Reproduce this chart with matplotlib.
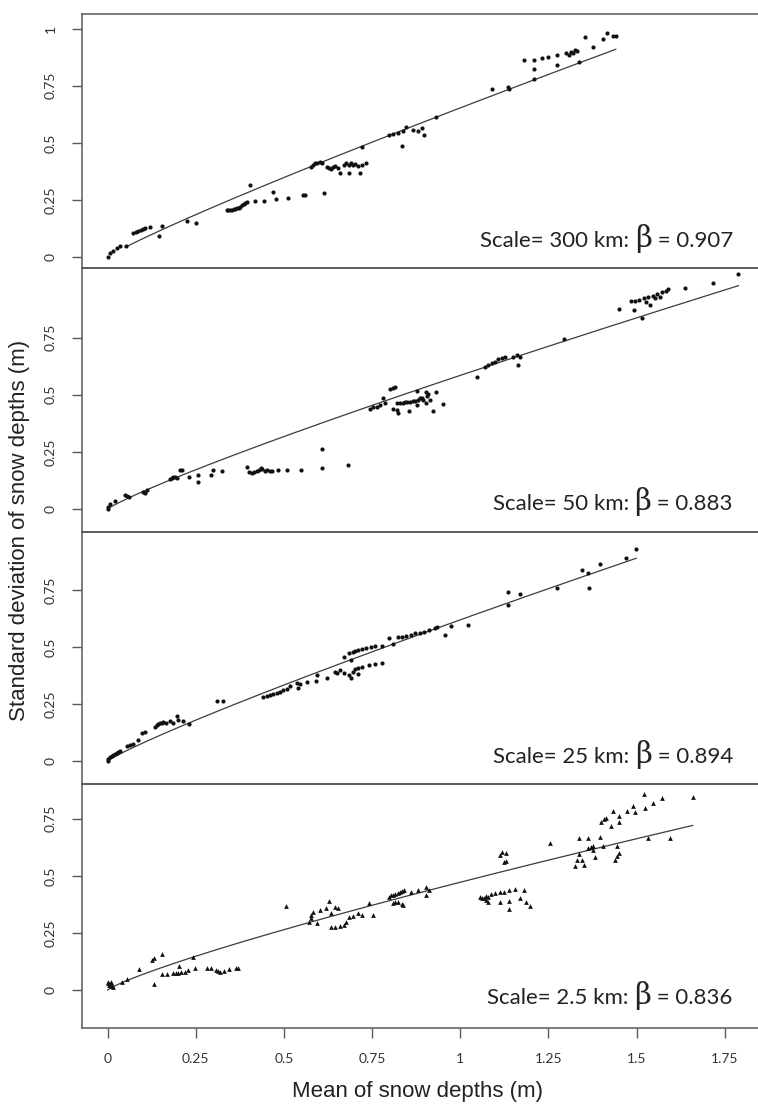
import matplotlib
matplotlib.use("Agg")
import matplotlib.pyplot as plt
import numpy as np
from matplotlib.offsetbox import AnchoredOffsetbox, HPacker, TextArea

# panel 1: 300 km
P1_X = [0.0, 0.0065, 0.016, 0.0255, 0.035, 0.052, 0.073, 0.08, 0.087, 0.094, 0.1, 0.106,
        0.12, 0.153, 0.146, 0.224, 0.25,
        0.337, 0.342, 0.347, 0.352, 0.357, 0.362, 0.366, 0.371, 0.376, 0.381, 0.386, 0.39, 0.394,
        0.404, 0.417, 0.442, 0.47, 0.476, 0.51, 0.56, 0.555, 0.614,
        0.577, 0.583, 0.589, 0.595, 0.602, 0.608, 0.621, 0.627, 0.633, 0.639, 0.646, 0.652, 0.658,
        0.671, 0.677, 0.684, 0.69, 0.696, 0.702, 0.709, 0.721, 0.734, 0.684, 0.715, 0.721,
        0.797, 0.809, 0.822, 0.837, 0.847, 0.866, 0.879, 0.891, 0.898, 0.835, 0.932,
        1.089, 1.134, 1.137,
        1.181, 1.21, 1.231, 1.25, 1.275, 1.21, 1.21, 1.273, 1.3, 1.307, 1.313, 1.319, 1.326,
        1.332, 1.336, 1.353, 1.376, 1.404, 1.416, 1.433, 1.441]
P1_Y = [0.001, 0.016, 0.028, 0.038, 0.048, 0.048, 0.104, 0.108, 0.113, 0.118, 0.122, 0.126,
        0.13, 0.136, 0.092, 0.158, 0.15,
        0.208, 0.205, 0.204, 0.206, 0.21, 0.212, 0.213, 0.216, 0.22, 0.226, 0.232, 0.236, 0.24,
        0.315, 0.247, 0.247, 0.283, 0.255, 0.26, 0.272, 0.272, 0.282,
        0.396, 0.403, 0.41, 0.413, 0.416, 0.41, 0.396, 0.388, 0.385, 0.396, 0.399, 0.388, 0.366,
        0.403, 0.41, 0.403, 0.41, 0.403, 0.407, 0.4, 0.403, 0.413, 0.369, 0.369, 0.483,
        0.534, 0.537, 0.542, 0.552, 0.571, 0.556, 0.552, 0.564, 0.534, 0.486, 0.612,
        0.734, 0.746, 0.734,
        0.863, 0.863, 0.87, 0.874, 0.885, 0.822, 0.778, 0.841, 0.892, 0.885, 0.899, 0.892, 0.907,
        0.904, 0.855, 0.962, 0.921, 0.953, 0.98, 0.969, 0.968]

# panel 2: 50 km
P2_X = [0.0, 0.001, 0.0065, 0.021, 0.049, 0.054, 0.061, 0.101, 0.106, 0.111,
        0.177, 0.181, 0.186, 0.191, 0.196, 0.205, 0.21, 0.231, 0.257, 0.257, 0.292, 0.3, 0.323,
        0.394, 0.402, 0.408, 0.415, 0.423, 0.43, 0.434, 0.439, 0.446, 0.452, 0.46, 0.465,
        0.484, 0.508, 0.547, 0.608, 0.608, 0.681,
        0.744, 0.753, 0.763, 0.772, 0.786, 0.782, 0.8, 0.808, 0.815,
        0.808, 0.82, 0.824, 0.829, 0.837, 0.843, 0.85, 0.857, 0.865, 0.871, 0.876, 0.881, 0.886,
        0.891, 0.895, 0.903, 0.905, 0.914, 0.923, 0.93, 0.952, 0.855, 0.821, 0.876, 0.903, 0.909,
        1.046, 1.07, 1.079, 1.089, 1.098, 1.108, 1.117, 1.127, 1.15, 1.16, 1.169, 1.165,
        1.294, 1.451, 1.483, 1.495, 1.508, 1.521, 1.533, 1.546, 1.558, 1.571, 1.584, 1.59,
        1.492, 1.514, 1.527, 1.537, 1.552, 1.565, 1.638, 1.716, 1.789]
P2_Y = [0.0, 0.01, 0.022, 0.036, 0.061, 0.057, 0.054, 0.076, 0.069, 0.083,
        0.13, 0.137, 0.139, 0.141, 0.137, 0.171, 0.171, 0.141, 0.149, 0.12, 0.149, 0.171, 0.166,
        0.185, 0.163, 0.159, 0.163, 0.168, 0.171, 0.178, 0.174, 0.168, 0.171, 0.168, 0.168,
        0.171, 0.171, 0.171, 0.263, 0.178, 0.193,
        0.437, 0.445, 0.448, 0.455, 0.463, 0.485, 0.524, 0.528, 0.533,
        0.437, 0.433, 0.422, 0.463, 0.465, 0.467, 0.47, 0.47, 0.473, 0.474, 0.455, 0.477, 0.485,
        0.487, 0.477, 0.463, 0.495, 0.477, 0.43, 0.514, 0.458, 0.428, 0.463, 0.518, 0.511, 0.504,
        0.577, 0.623, 0.63, 0.638, 0.645, 0.655, 0.66, 0.664, 0.664, 0.674, 0.667, 0.63,
        0.745, 0.874, 0.911, 0.911, 0.915, 0.923, 0.93, 0.934, 0.94, 0.949, 0.955, 0.964,
        0.872, 0.835, 0.908, 0.893, 0.923, 0.93, 0.966, 0.988, 1.028]

# panel 3: 25 km
P3_X = [0.0, 0.002, 0.0065, 0.011, 0.016, 0.021, 0.026, 0.03, 0.035,
        0.054, 0.063, 0.071, 0.087, 0.096, 0.106,
        0.134, 0.139, 0.144, 0.148, 0.153, 0.158, 0.165, 0.177, 0.186, 0.197, 0.2, 0.214, 0.231,
        0.309, 0.326,
        0.441, 0.451, 0.46, 0.47, 0.479, 0.489, 0.498, 0.508, 0.517,
        0.536, 0.541, 0.545, 0.564, 0.591, 0.593, 0.621, 0.649,
        0.671, 0.684, 0.69, 0.696, 0.702, 0.709, 0.721, 0.734, 0.747, 0.759, 0.778, 0.797, 0.809,
        0.822, 0.835, 0.847, 0.86, 0.872, 0.885, 0.898, 0.91, 0.929, 0.935,
        0.646, 0.658, 0.671, 0.684, 0.696, 0.702, 0.709, 0.721, 0.74, 0.759, 0.778, 0.69, 0.709,
        0.958, 0.973, 1.021,
        1.134, 1.134, 1.168, 1.275, 1.344, 1.363, 1.366, 1.395, 1.47, 1.499]
P3_Y = [0.0, 0.007, 0.016, 0.022, 0.026, 0.031, 0.036, 0.041, 0.044,
        0.066, 0.07, 0.075, 0.092, 0.124, 0.129,
        0.15, 0.158, 0.162, 0.165, 0.168, 0.172, 0.168, 0.177, 0.168, 0.197, 0.18, 0.177, 0.162,
        0.264, 0.264,
        0.282, 0.287, 0.291, 0.295, 0.298, 0.303, 0.309, 0.316, 0.329,
        0.343, 0.319, 0.336, 0.348, 0.352, 0.377, 0.365, 0.387,
        0.458, 0.472, 0.443, 0.479, 0.482, 0.487, 0.49, 0.494, 0.501, 0.504, 0.504, 0.538, 0.513,
        0.542, 0.545, 0.548, 0.553, 0.56, 0.563, 0.567, 0.575, 0.582, 0.589,
        0.392, 0.399, 0.385, 0.377, 0.392, 0.402, 0.406, 0.414, 0.421, 0.425, 0.428, 0.363, 0.382,
        0.553, 0.592, 0.596,
        0.743, 0.684, 0.732, 0.76, 0.838, 0.823, 0.76, 0.864, 0.889, 0.928]

# panel 4: 2.5 km (triangles)
P4_X = [0.0, 0.004, 0.006, 0.01, 0.013, 0.016, 0.001, 0.008, 0.042, 0.054, 0.088,
        0.127, 0.131, 0.155, 0.13,
        0.155, 0.167, 0.186, 0.193, 0.199, 0.203, 0.208, 0.218, 0.228, 0.243, 0.249, 0.281, 0.293,
        0.306, 0.312, 0.318, 0.331, 0.344, 0.363, 0.369,
        0.507,
        0.57, 0.577, 0.583, 0.595, 0.602, 0.618, 0.627, 0.633, 0.646, 0.652, 0.658, 0.671, 0.677,
        0.684, 0.696, 0.709, 0.721, 0.74, 0.753, 0.633, 0.646, 0.577,
        0.797, 0.803, 0.809, 0.815, 0.822, 0.828, 0.835, 0.841, 0.809, 0.815, 0.822, 0.835, 0.86,
        0.879, 0.904, 0.904, 0.91, 0.837,
        1.055, 1.061, 1.067, 1.074, 1.08, 1.086, 1.099, 1.112, 1.124, 1.137, 1.156, 1.181, 1.08,
        1.112, 1.139, 1.168, 1.187, 1.197, 1.139, 1.074,
        1.112, 1.118, 1.13, 1.124, 1.13, 1.254,
        1.326, 1.332, 1.338, 1.344, 1.351, 1.338, 1.361, 1.363, 1.37, 1.376, 1.382, 1.395, 1.404,
        1.439, 1.445, 1.451, 1.445, 1.376,
        1.399, 1.407, 1.413, 1.432, 1.428, 1.449, 1.449, 1.474, 1.489, 1.495, 1.521, 1.525, 1.546,
        1.571, 1.659, 1.533, 1.596]
P4_Y = [0.029, 0.022, 0.025, 0.019, 0.022, 0.015, 0.034, 0.037, 0.036, 0.048, 0.092,
        0.131, 0.142, 0.158, 0.025,
        0.07, 0.07, 0.073, 0.073, 0.073, 0.107, 0.08, 0.077, 0.088, 0.146, 0.098, 0.098, 0.095,
        0.088, 0.083, 0.08, 0.083, 0.092, 0.095, 0.098,
        0.369,
        0.299, 0.314, 0.343, 0.292, 0.35, 0.358, 0.39, 0.336, 0.365, 0.358, 0.282, 0.285, 0.299,
        0.321, 0.326, 0.336, 0.328, 0.38, 0.328, 0.277, 0.277, 0.328,
        0.409, 0.414, 0.416, 0.419, 0.423, 0.428, 0.434, 0.438, 0.38, 0.385, 0.387, 0.375, 0.428,
        0.438, 0.453, 0.414, 0.438, 0.372,
        0.409, 0.404, 0.401, 0.412, 0.409, 0.419, 0.423, 0.428, 0.431, 0.438, 0.442, 0.438, 0.387,
        0.384, 0.39, 0.401, 0.384, 0.369, 0.355, 0.394,
        0.591, 0.603, 0.599, 0.559, 0.565, 0.642,
        0.545, 0.569, 0.594, 0.569, 0.547, 0.667, 0.667, 0.623, 0.628, 0.613, 0.584, 0.67, 0.632,
        0.571, 0.588, 0.6, 0.629, 0.632,
        0.737, 0.749, 0.755, 0.784, 0.72, 0.763, 0.737, 0.784, 0.807, 0.778, 0.857, 0.799, 0.818,
        0.839, 0.847, 0.664, 0.664]

SCALES = ["300 km", "50 km", "25 km", "2.5 km"]
BETAS = [0.907, 0.883, 0.894, 0.836]
# power-law fit sigma = a * mu^beta
FIT_A = [0.653, 0.585, 0.619, 0.472]
FIT_XMIN = [0.05, 0.005, 0.005, 0.0]
FIT_XMAX = [1.441, 1.789, 1.499, 1.659]

Y_TICKS = [[0, 0.25, 0.5, 0.75, 1], [0, 0.25, 0.5, 0.75], [0, 0.25, 0.5, 0.75], [0, 0.25, 0.5, 0.75]]
X_TICKS = [0, 0.25, 0.5, 0.75, 1, 1.25, 1.5, 1.75]

# layout, in pixels of the 758x1104 canvas
W, H = 758, 1104
LEFT_PX, RIGHT_PX = 81.7, 760
PANEL_PX = [(14, 268), (268, 532), (532, 784), (784, 1027.5)]
YLIMS = [(-0.048, 1.064), (-0.1007, 1.055), (-0.101, 1.004), (-0.164, 0.902)]
XLIM = (-0.0737, 1.85)
LABEL_Y = [0.079, 0.032, 0.030, -0.022]

TICK_FONT = ["Lato", "DejaVu Sans"]
TEXT_FONT = ["Lato", "DejaVu Sans"]
LABEL_FONT = ["Liberation Sans", "DejaVu Sans"]
FRAME = "#5a5a5a"


def fmt_tick(v):
    return "0" if v == 0 else ("1" if v == 1 else f"{v:g}")


fig = plt.figure(figsize=(W / 100, H / 100), dpi=100)
xs = [P1_X, P2_X, P3_X, P4_X]
ys = [P1_Y, P2_Y, P3_Y, P4_Y]

for i in range(4):
    top, bot = PANEL_PX[i]
    ax = fig.add_axes([LEFT_PX / W, 1 - bot / H, (RIGHT_PX - LEFT_PX) / W, (bot - top) / H])
    marker = "^" if i == 3 else "o"
    ms = 3.4 if i == 3 else 3.0
    ax.plot(xs[i], ys[i], linestyle="none", marker=marker, markersize=ms,
            color="#111111", markeredgewidth=0, zorder=3)

    fx = np.linspace(FIT_XMIN[i], FIT_XMAX[i], 200)
    ax.plot(fx, FIT_A[i] * fx ** BETAS[i], color="#3c3c3c", linewidth=0.9, zorder=2)

    ax.set_xlim(*XLIM)
    ax.set_ylim(*YLIMS[i])
    ax.set_yticks(Y_TICKS[i])
    ax.set_yticklabels([fmt_tick(v) for v in Y_TICKS[i]], rotation=90, va="center",
                       family=TICK_FONT, fontsize=10, color="#333333")
    if i == 3:
        ax.set_xticks(X_TICKS)
        ax.set_xticklabels([fmt_tick(v) for v in X_TICKS], family=TICK_FONT,
                           fontsize=10, color="#333333")
    else:
        ax.set_xticks([])
    ax.tick_params(axis="both", direction="out", length=7.2, width=1.0, color=FRAME, pad=11)
    for name, spine in ax.spines.items():
        spine.set_color(FRAME)
        spine.set_linewidth(1.1)
    ax.spines["right"].set_visible(False)
    ax.patch.set_alpha(0)

    parts = [
        TextArea(f"Scale= {SCALES[i]}: ", textprops=dict(family=TEXT_FONT, fontsize=16, color="#222222")),
        TextArea("\u03b2", textprops=dict(family=["DejaVu Serif"], fontsize=21, color="#222222")),
        TextArea(f" = {BETAS[i]:.3f}", textprops=dict(family=TEXT_FONT, fontsize=16, color="#222222")),
    ]
    box = HPacker(children=parts, align="baseline", pad=0, sep=0)
    anchored = AnchoredOffsetbox(loc="center right", child=box, pad=0, borderpad=0, frameon=False,
                                 bbox_to_anchor=(1.773, LABEL_Y[i]), bbox_transform=ax.transData)
    ax.add_artist(anchored)

fig.text(20 / W, 1 - 530 / H, "Standard deviation of snow depths (m)", rotation=90,
         ha="center", va="center", family=LABEL_FONT, fontsize=16, color="#222222")
fig.text(417.5 / W, 1 - 1091.7 / H, "Mean of snow depths (m)", ha="center", va="center",
         family=LABEL_FONT, fontsize=16, color="#222222")

fig.savefig("out.png", dpi=100)
